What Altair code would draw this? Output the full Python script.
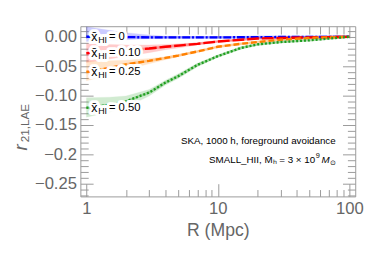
import altair as alt
import pandas as pd

# ---------------- data ----------------
R = [1, 1.5, 2, 3, 4, 5, 7, 10, 15, 20, 30, 50, 70, 100]
series = ["0", "0.10", "0.25", "0.50"]
colors = ["#0000ff", "#ff0000", "#ff8000", "#1f9e1f"]

mean_0 = [0.0, 0.0, -0.0005, -0.001, -0.001, -0.001, -0.001, -0.001, -0.0008, -0.0006, -0.0004, -0.0002, -0.0001, 0.0]
lo_0 = [-0.008, -0.006, -0.005, -0.003, -0.002, -0.0015, -0.0013, -0.0012, -0.001, -0.0008, -0.0005, -0.0003, -0.0002, -0.0001]
hi_0 = [0.017, 0.011, 0.007, 0.003, 0.001, 0.0005, 0.0, 0.0, 0.0, 0.0, 0.0, 0.0, 0.0, 0.0001]

mean_10 = [-0.028, -0.025, -0.023, -0.020, -0.017, -0.015, -0.012, -0.008, -0.005, -0.003, -0.002, -0.001, -0.0005, 0.0]
lo_10 = [-0.044, -0.038, -0.033, -0.027, -0.022, -0.019, -0.014, -0.009, -0.006, -0.0035, -0.0025, -0.0012, -0.0006, 0.0]
hi_10 = [-0.012, -0.013, -0.014, -0.014, -0.013, -0.012, -0.010, -0.007, -0.004, -0.0025, -0.0015, -0.0008, -0.0004, 0.0]

mean_25 = [-0.060, -0.053, -0.047, -0.041, -0.036, -0.032, -0.025, -0.017, -0.012, -0.009, -0.005, -0.002, -0.001, 0.0]
lo_25 = [-0.075, -0.065, -0.056, -0.046, -0.039, -0.034, -0.026, -0.018, -0.013, -0.0095, -0.0055, -0.0022, -0.0011, 0.0]
hi_25 = [-0.042, -0.041, -0.040, -0.037, -0.034, -0.030, -0.024, -0.016, -0.011, -0.0085, -0.0045, -0.0018, -0.0009, 0.0]

mean_50 = [-0.121, -0.116, -0.110, -0.095, -0.078, -0.067, -0.048, -0.033, -0.019, -0.013, -0.009, -0.006, -0.003, 0.0]
lo_50 = [-0.137, -0.128, -0.120, -0.101, -0.082, -0.071, -0.051, -0.035, -0.021, -0.014, -0.010, -0.0065, -0.0038, 0.0]
hi_50 = [-0.104, -0.103, -0.101, -0.090, -0.074, -0.063, -0.045, -0.031, -0.017, -0.012, -0.008, -0.0055, -0.0025, 0.0]

means = [mean_0, mean_10, mean_25, mean_50]
los = [lo_0, lo_10, lo_25, lo_50]
his = [hi_0, hi_10, hi_25, hi_50]

# axis ticks / labels
x_major = [1, 10, 100]
x_major_labels = ["1", "10", "100"]
x_minor = [2, 3, 4, 5, 6, 7, 8, 9, 20, 30, 40, 50, 60, 70, 80, 90]
y_major = [0.0, -0.05, -0.10, -0.15, -0.20, -0.25]
y_major_labels = ["0.00", "\u22120.05", "\u22120.10", "\u22120.15", "\u22120.2", "\u22120.25"]
y_minor = [0.01, -0.01, -0.02, -0.03, -0.04, -0.06, -0.07, -0.08, -0.09,
           -0.11, -0.12, -0.13, -0.14, -0.16, -0.17, -0.18, -0.19,
           -0.21, -0.22, -0.23, -0.24, -0.26, -0.27]

note1 = "SKA, 1000 h, foreground avoidance"
note2a = "SMALL_HII, M\u0304\u2095 = 3 \u00d7 10"
note2b = "9"
note2c = "M"
note2d = "\u2299"

# ---------------- build tables ----------------
rows = []
for s, m, lo, hi in zip(series, means, los, his):
    for r, a, b, c in zip(R, m, lo, hi):
        rows.append({"R": r, "series": s, "mean": a, "lo": b, "hi": c})
df = pd.DataFrame(rows)

lab = pd.DataFrame({"R": [R[0]] * 4, "y": [m[0] for m in means], "series": series,
                    "val": ["= " + s for s in series]})

W, H = 281, 174
FONT = "Liberation Sans"
AX = "#9a9a9a"
xs = alt.Scale(type="log", domain=[0.9, 111], nice=False)
ys = alt.Scale(domain=[-0.272, 0.018], nice=False, zero=False)
col = alt.Scale(domain=series, range=colors)
dash = alt.Scale(domain=series, range=[[8, 2, 2, 2], [12, 3], [6, 3], [2, 2]])


def expr(vals, labels):
    e = ""
    for v, l in zip(vals, labels):
        e += f"abs(datum.value - ({v})) < 1e-6 ? '{l}' : "
    return e + "''"


def tick_axis(orient, offset, values, size, domain=False):
    return alt.Axis(orient=orient, offset=offset, values=values, tickSize=size,
                    labels=False, domain=domain, domainColor=AX, grid=False,
                    tickColor=AX, tickWidth=1, title=None)


x_lab_axis = alt.Axis(orient="bottom", values=x_major, labelExpr=expr(x_major, x_major_labels),
                      ticks=False, domain=True, domainColor=AX, grid=False,
                      labelFont=FONT, labelFontSize=17, labelColor="#666666", labelPadding=4,
                      title="R (Mpc)", titleFont=FONT, titleFontSize=18, titleFontWeight="normal",
                      titleColor="#666666", titlePadding=6)
y_lab_axis = alt.Axis(orient="left", values=y_major, labelExpr=expr(y_major, y_major_labels),
                      ticks=False, domain=True, domainColor=AX, grid=False,
                      labelFont=FONT, labelFontSize=17, labelColor="#666666", labelPadding=4,
                      title=None)

band = alt.Chart(df).mark_area(opacity=0.2, strokeWidth=0.8, strokeOpacity=0.35).encode(
    x=alt.X("R:Q", scale=xs, axis=x_lab_axis),
    y=alt.Y("lo:Q", scale=ys, axis=y_lab_axis),
    y2="hi:Q",
    color=alt.Color("series:N", scale=col, legend=None),
    stroke=alt.Stroke("series:N", scale=col, legend=None),
)

light = alt.Chart(df).mark_line(strokeWidth=2.6, opacity=0.3).encode(
    x=alt.X("R:Q", scale=xs, axis=None),
    y=alt.Y("mean:Q", scale=ys, axis=None),
    color=alt.Color("series:N", scale=col, legend=None),
)

lines = alt.Chart(df).mark_line(strokeWidth=2.4).encode(
    x=alt.X("R:Q", scale=xs, axis=None),
    y=alt.Y("mean:Q", scale=ys, axis=None),
    color=alt.Color("series:N", scale=col, legend=None),
    strokeDash=alt.StrokeDash("series:N", scale=dash, legend=None),
)


def text_layer(field_or_value, dx, dy, size, halo, italic=False):
    props = dict(align="left", baseline="middle", dx=dx, dy=dy, font=FONT, fontSize=size)
    if italic:
        props["fontStyle"] = "italic"
    if halo:
        props.update(stroke="white", strokeWidth=6, strokeJoin="round", fill="white")
    else:
        props.update(fill="black")
    enc = dict(x=alt.X("R:Q", scale=xs, axis=None), y=alt.Y("y:Q", scale=ys, axis=None))
    if field_or_value.startswith("@"):
        enc["text"] = alt.Text(field_or_value[1:] + ":N")
    else:
        enc["text"] = alt.value(field_or_value)
    return alt.Chart(lab).mark_text(**props).encode(**enc)


label_layers = []
for halo in (True, False):
    label_layers.append(text_layer("x\u0304", 5, 0, 12.5, halo))
    label_layers.append(text_layer("HI", 12, 3, 9, halo))
    label_layers.append(text_layer("@val", 23, 0, 11.5, halo))


def dummy(xaxis, yaxis):
    return alt.Chart(df).mark_point(opacity=0).encode(
        x=alt.X("R:Q", scale=xs, axis=xaxis),
        y=alt.Y("mean:Q", scale=ys, axis=yaxis),
    )


d1 = dummy(tick_axis("top", -H, x_major, 13), tick_axis("right", -W, y_major, 13))
d2 = dummy(tick_axis("top", -H, x_minor, 7), tick_axis("right", -W, y_minor, 8))
d3 = dummy(tick_axis("bottom", -H, x_major, 12, True), tick_axis("left", -W, y_major, 13, True))
d4 = dummy(tick_axis("bottom", -H, x_minor, 8), tick_axis("left", -W, y_minor, 8))


def note(text, x, y, size, align="right", italic=False):
    props = dict(align=align, baseline="middle", font=FONT, fontSize=size, color="black")
    if italic:
        props["fontStyle"] = "italic"
    return alt.Chart(pd.DataFrame({"t": [text]})).mark_text(**props).encode(
        x=alt.value(x), y=alt.value(y), text="t:N")


notes = [
    note(note1, 261, 117, 10),
    note(note2a, 240, 137, 10),
    note(note2b, 240.5, 133, 7.5, align="left"),
    note(note2c, 246.5, 137, 10, align="left", italic=True),
    note(note2d, 255, 139.5, 7, align="left"),
]

ytitle_r = alt.Chart(pd.DataFrame({"t": ["r"]})).mark_text(
    angle=270, align="center", baseline="alphabetic", font=FONT, fontSize=19,
    fontStyle="italic", color="#666666"
).encode(x=alt.value(-55), y=alt.value(124), text="t:N")
ytitle_sub = alt.Chart(pd.DataFrame({"t": ["21,LAE"]})).mark_text(
    angle=270, align="center", baseline="alphabetic", font=FONT, fontSize=12,
    color="#666666"
).encode(x=alt.value(-53), y=alt.value(99), text="t:N")

chart = alt.layer(
    band, light, lines, *label_layers, d1, d2, d3, d4, *notes, ytitle_r, ytitle_sub
).resolve_axis(x="independent", y="independent").properties(
    width=W, height=H,
    autosize=alt.AutoSizeParams(type="none"),
    padding={"left": 74, "top": 16, "right": 11, "bottom": 45},
).configure_view(stroke=None)

chart.save("out.html", embed_options={"renderer": "svg", "actions": False})
